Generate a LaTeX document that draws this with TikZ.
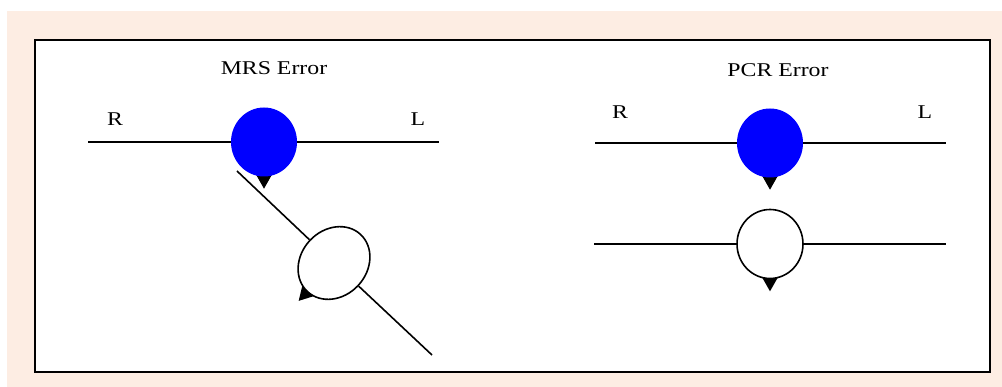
\documentclass[tikz,border=0pt]{standalone}
\usepackage{fontspec}
\setmainfont{Liberation Serif}
\usetikzlibrary{calc,backgrounds,shapes.geometric}
\definecolor{panelpeach}{HTML}{FDEDE3}
\definecolor{dotblue}{HTML}{0000FF}

\begin{document}
\begin{tikzpicture}[
  x=1pt,y=-1pt,
  strand/.style={line width=1.6pt},
  dotb/.style={ellipse,fill=dotblue,inner sep=0pt,minimum width=66pt,minimum height=69pt},
  dotw/.style={ellipse,draw,line width=1.6pt,fill=white,inner sep=0pt,minimum width=66pt,minimum height=69pt},
  lbl/.style={font=\fontsize{19.5}{19.5}\selectfont,inner sep=0pt,xscale=1.22},
]
\useasboundingbox (0,0) rectangle (1002,387);
\begin{scope}[on background layer]
\fill[panelpeach] (7,11) rectangle (1002,387);
\draw[line width=2pt,fill=white] (35,40) rectangle (990,372);
\end{scope}

% MRS error
\node[lbl] (mrstitle) at (274,68) {MRS Error};
\node[lbl] (mrsR) at (115,119) {R};
\node[lbl] (mrsL) at (418,119) {L};
\coordinate (mrsa) at (88,142);
\coordinate (mrsz) at (439,142);
\coordinate (mrsd) at (237,171);
\coordinate (mrse) at (432,355);
\node[dotb] (mrsb) at (264,142) {};
\node[dotw,minimum width=66pt,minimum height=78pt,rotate=-43] (mrsw) at (334,263) {};
\draw[strand] (mrsa) -- (mrsb) -- (mrsz);
\draw[strand] (mrsd) -- (mrsw) -- (mrse);

% PCR error
\node[lbl] (pcrtitle) at (778,70) {PCR Error};
\node[lbl] (pcrR) at (620,112) {R};
\node[lbl] (pcrL) at (925,112) {L};
\coordinate (pcra) at (595,143);
\coordinate (pcrz) at (946,143);
\coordinate (pcrc) at (594,244);
\coordinate (pcry) at (946,244);
\node[dotb] (pcrb) at (770,143) {};
\node[dotw] (pcrw) at (770,244) {};
\draw[strand] (pcra) -- (pcrb) -- (pcrz);
\draw[strand] (pcrc) -- (pcrw) -- (pcry);

% markers under the dots
\begin{scope}[on background layer]
\foreach \n in {mrsb,mrsw,pcrb,pcrw}{
  \coordinate (bc) at ($(\n.south)!3pt!(\n.center)$);
  \fill ($(bc)!8.5pt!90:(\n.center)$) -- ($(\n.south)!-12pt!(\n.center)$)
    -- ($(bc)!8.5pt!-90:(\n.center)$) -- cycle;
}
\end{scope}
\end{tikzpicture}
\end{document}
